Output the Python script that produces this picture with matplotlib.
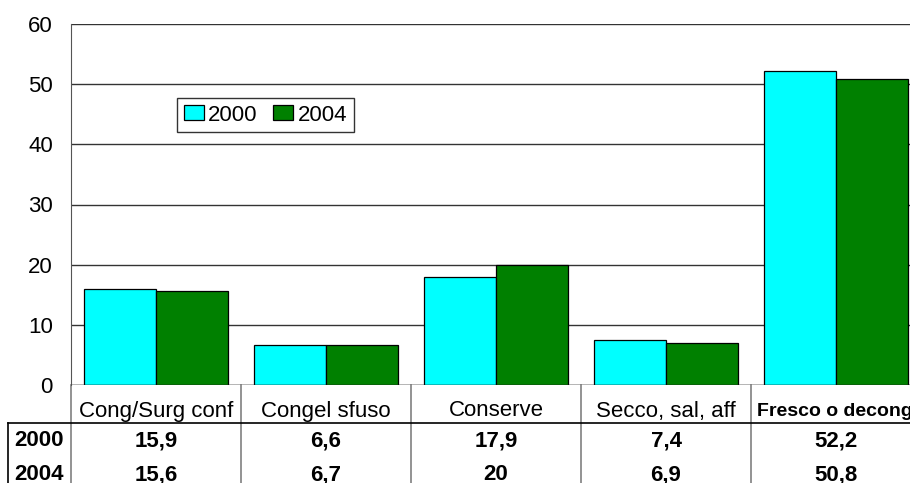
import numpy as np
import matplotlib
matplotlib.use("Agg")
import matplotlib.pyplot as plt
import matplotlib.transforms as mtransforms

plt.rcParams['font.family'] = ['Liberation Sans', 'DejaVu Sans']

categories = ["Cong/Surg conf", "Congel sfuso", "Conserve", "Secco, sal, aff", "Fresco o decong"]
years = ["2000", "2004"]
vals_2000 = [15.9, 6.6, 17.9, 7.4, 52.2]
vals_2004 = [15.6, 6.7, 20, 6.9, 50.8]
labels_2000 = ["15,9", "6,6", "17,9", "7,4", "52,2"]
labels_2004 = ["15,6", "6,7", "20", "6,9", "50,8"]

W, H = 910, 483
fig = plt.figure(figsize=(W / 100, H / 100), dpi=100)
# axes: left edge 71px, zero line at 385px, top at 24px, 170px per category (last one clipped)
ax = fig.add_axes([71 / W, (H - 385) / H, 850 / W, 361 / H])

x = np.arange(len(categories))
bw = 72 / 170
ax.bar(x - bw / 2, vals_2000, bw, color='#00FFFF', edgecolor='black', linewidth=0.9, label=years[0], zorder=3)
ax.bar(x + bw / 2, vals_2004, bw, color='#008000', edgecolor='black', linewidth=0.9, label=years[1], zorder=3)

ax.set_xlim(-0.5, 4.5)
ax.set_ylim(0, 60)
ax.set_yticks(range(0, 61, 10))
ax.yaxis.grid(True, color='#333333', linewidth=1.0, zorder=0)
ax.tick_params(axis='y', length=0, labelsize=16, pad=13)
ax.set_xticks([])
for s in ['top', 'right', 'bottom']:
    ax.spines[s].set_visible(False)
ax.spines['left'].set_color('#555555')
ax.axhline(0, color='#333333', linewidth=1.0, zorder=4)

leg = ax.legend(loc='upper left', bbox_to_anchor=((177 - 71) / 850, (385 - 98) / 361),
                ncol=2, fontsize=16, frameon=True, fancybox=False, borderaxespad=0,
                handlelength=0.9, handleheight=0.65, handletextpad=0.2,
                columnspacing=0.7, borderpad=0.3)
leg.get_frame().set_edgecolor('black')
leg.get_frame().set_linewidth(1.0)

# data table below the axes
tr = mtransforms.blended_transform_factory(ax.transData, ax.transAxes)
px = 1 / 361.0
y_head = -(411 - 385) * px
y_line = -(423 - 385) * px
y_r1 = -(441 - 385) * px
y_r2 = -(475 - 385) * px
y_bot = -(490 - 385) * px
x_lab_left = -0.5 - (71 - 8) / 170
x_lab = -0.5 - (71 - 39) / 170

for b in np.arange(-0.5, 4.6, 1.0):
    ax.plot([b, b], [0, y_bot], transform=tr, color='#808080', linewidth=1.2, clip_on=False)
ax.plot([x_lab_left, x_lab_left], [y_line, y_bot], transform=tr, color='black', linewidth=1.2, clip_on=False)
ax.plot([x_lab_left, 4.6], [y_line, y_line], transform=tr, color='black', linewidth=1.2, clip_on=False)

for i, c in enumerate(categories):
    if i == len(categories) - 1:
        ax.text(i - 0.465, y_head, c, transform=tr, ha='left', va='center', fontsize=14,
                fontweight='bold', clip_on=False)
    else:
        ax.text(i, y_head, c, transform=tr, ha='center', va='center', fontsize=16, clip_on=False)
    ax.text(i, y_r1, labels_2000[i], transform=tr, ha='center', va='center', fontsize=16,
            fontweight='bold', clip_on=False)
    ax.text(i, y_r2, labels_2004[i], transform=tr, ha='center', va='center', fontsize=16,
            fontweight='bold', clip_on=False)

ax.text(x_lab, y_r1, years[0], transform=tr, ha='center', va='center', fontsize=16, fontweight='bold', clip_on=False)
ax.text(x_lab, y_r2, years[1], transform=tr, ha='center', va='center', fontsize=16, fontweight='bold', clip_on=False)

fig.savefig("out.png", dpi=100)
